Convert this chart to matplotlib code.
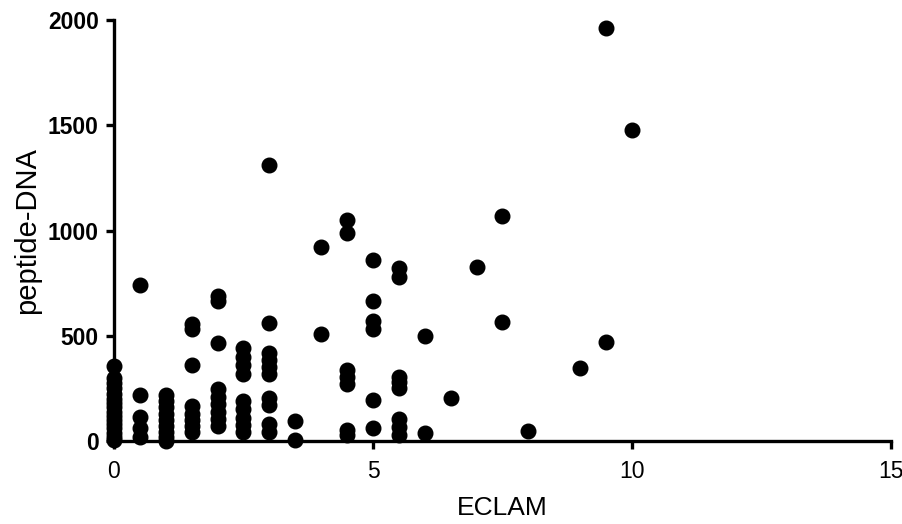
import matplotlib.pyplot as plt

plt.rcParams['font.family'] = ['Liberation Sans', 'DejaVu Sans']

# ECLAM score groups and the peptide-DNA values
eclam_0 = [355, 300, 275, 250, 225, 200, 180, 160, 140, 120, 100, 80, 60, 40, 20, 5]
eclam_05 = [740, 220, 115, 60, 20]
eclam_1 = [220, 190, 160, 130, 100, 70, 45, 20, 0]
eclam_15 = [555, 530, 360, 165, 130, 100, 70, 45]
eclam_2 = [690, 665, 465, 245, 210, 175, 140, 105, 70]
eclam_25 = [440, 400, 360, 320, 190, 150, 110, 75, 45]
eclam_3 = [1313, 560, 420, 385, 350, 320, 205, 170, 80, 45]
eclam_35 = [95, 5]
eclam_4 = [920, 507]
eclam_45 = [1052, 990, 338, 306, 270, 52, 29]
eclam_5 = [862, 663, 568, 530, 195, 63]
eclam_55 = [822, 778, 306, 280, 250, 105, 68, 29]
eclam_6 = [497, 40]
eclam_65 = [203]
eclam_7 = [825]
eclam_75 = [1070, 565]
eclam_8 = [49]
eclam_9 = [345]
eclam_95 = [1962, 471]
eclam_10 = [1476]

groups = [
    (0, eclam_0), (0.5, eclam_05), (1, eclam_1), (1.5, eclam_15),
    (2, eclam_2), (2.5, eclam_25), (3, eclam_3), (3.5, eclam_35),
    (4, eclam_4), (4.5, eclam_45), (5, eclam_5), (5.5, eclam_55),
    (6, eclam_6), (6.5, eclam_65), (7, eclam_7), (7.5, eclam_75),
    (8, eclam_8), (9, eclam_9), (9.5, eclam_95), (10, eclam_10),
]

x_vals = []
y_vals = []
for score, values in groups:
    for v in values:
        x_vals.append(score)
        y_vals.append(v)

fig = plt.figure(figsize=(9.03, 5.24), dpi=100)
ax = fig.add_axes([0.1262, 0.1584, 0.8605, 0.8034])

ax.plot(x_vals, y_vals, 'o', color='black', markersize=10.5, clip_on=False, zorder=3)

ax.set_xlim(0, 15)
ax.set_ylim(0, 2000)
ax.set_xticks([0, 5, 10, 15])
ax.set_yticks([0, 500, 1000, 1500, 2000])

for side in ['top', 'right']:
    ax.spines[side].set_visible(False)
for side in ['left', 'bottom']:
    ax.spines[side].set_linewidth(2.4)

ax.tick_params(axis='both', width=2.4, length=6, direction='out')
ax.tick_params(axis='y', labelsize=16.5, pad=5)
ax.tick_params(axis='x', labelsize=16.5, pad=8)
for lbl in ax.get_yticklabels():
    lbl.set_fontweight('bold')

ax.set_xlabel('ECLAM', fontsize=19, labelpad=9)
ax.set_ylabel('peptide-DNA', fontsize=21, labelpad=5)

fig.savefig('out.png', dpi=100)
